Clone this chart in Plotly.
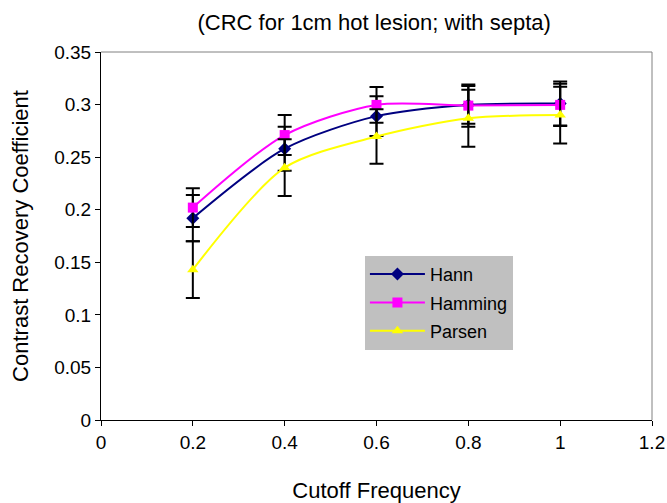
import plotly.graph_objects as go

freq = [0.2, 0.4, 0.6, 0.8, 1.0]
hann = [0.192, 0.258, 0.289, 0.2997, 0.301]
hann_err = [0.022, 0.021, 0.019, 0.018, 0.021]
hamming = [0.202, 0.271, 0.2997, 0.299, 0.2997]
hamming_err = [0.0185, 0.019, 0.017, 0.020, 0.020]
parsen = [0.143, 0.240, 0.2696, 0.287, 0.290]
parsen_err = [0.027, 0.027, 0.026, 0.027, 0.027]

FONT = "Liberation Sans, Arial, sans-serif"

fig = go.Figure()
series = [
    ("Hann", hann, hann_err, "#000080", "diamond"),
    ("Hamming", hamming, hamming_err, "#FF00FF", "square"),
    ("Parsen", parsen, parsen_err, "#FFFF00", "triangle-up"),
]
for name, vals, errs, color, sym in series:
    fig.add_trace(go.Scatter(
        x=freq, y=vals, name=name, mode="lines+markers", legendgroup=name,
        line=dict(color=color, width=2, shape="spline", smoothing=0.8),
        marker=dict(symbol=sym, size=10, color=color),
        error_y=dict(type="data", array=errs, visible=True,
                     color="black", thickness=2, width=7),
    ))

fig.update_layout(
    width=667, height=503,
    margin=dict(l=101, r=15, t=52, b=83, autoexpand=False),
    paper_bgcolor="white", plot_bgcolor="white",
    font=dict(family=FONT, size=19, color="black"),
    title=dict(text="(CRC for 1cm hot lesion; with septa)", x=0.561, xanchor="center",
               y=0.956, yanchor="middle", font=dict(family=FONT, size=22)),
    showlegend=True,
    legend=dict(x=0.479, y=0.446, xanchor="left", yanchor="top",
                bgcolor="#C0C0C0", borderwidth=0,
                font=dict(family=FONT, size=18), itemwidth=55,
                tracegroupgap=2),
    xaxis=dict(range=[0, 1.2], dtick=0.2, tick0=0, showgrid=False, zeroline=False,
               showline=True, linecolor="black", linewidth=1,
               ticks="outside", ticklen=5, tickcolor="black",
               title=dict(text="Cutoff Frequency", font=dict(size=22), standoff=30)),
    yaxis=dict(range=[0, 0.35], dtick=0.05, tick0=0, showgrid=False, zeroline=False,
               showline=True, linecolor="black", linewidth=1,
               ticks="outside", ticklen=5, tickcolor="black",
               title=dict(text="Contrast Recovery Coefficient", font=dict(size=22), standoff=19)),
)
fig.add_shape(type="line", xref="paper", yref="paper", x0=0, x1=1, y0=1, y1=1,
              line=dict(color="#808080", width=1))
fig.add_shape(type="line", xref="paper", yref="paper", x0=1, x1=1, y0=0, y1=1,
              line=dict(color="#808080", width=1))

fig.write_html("out.html")
